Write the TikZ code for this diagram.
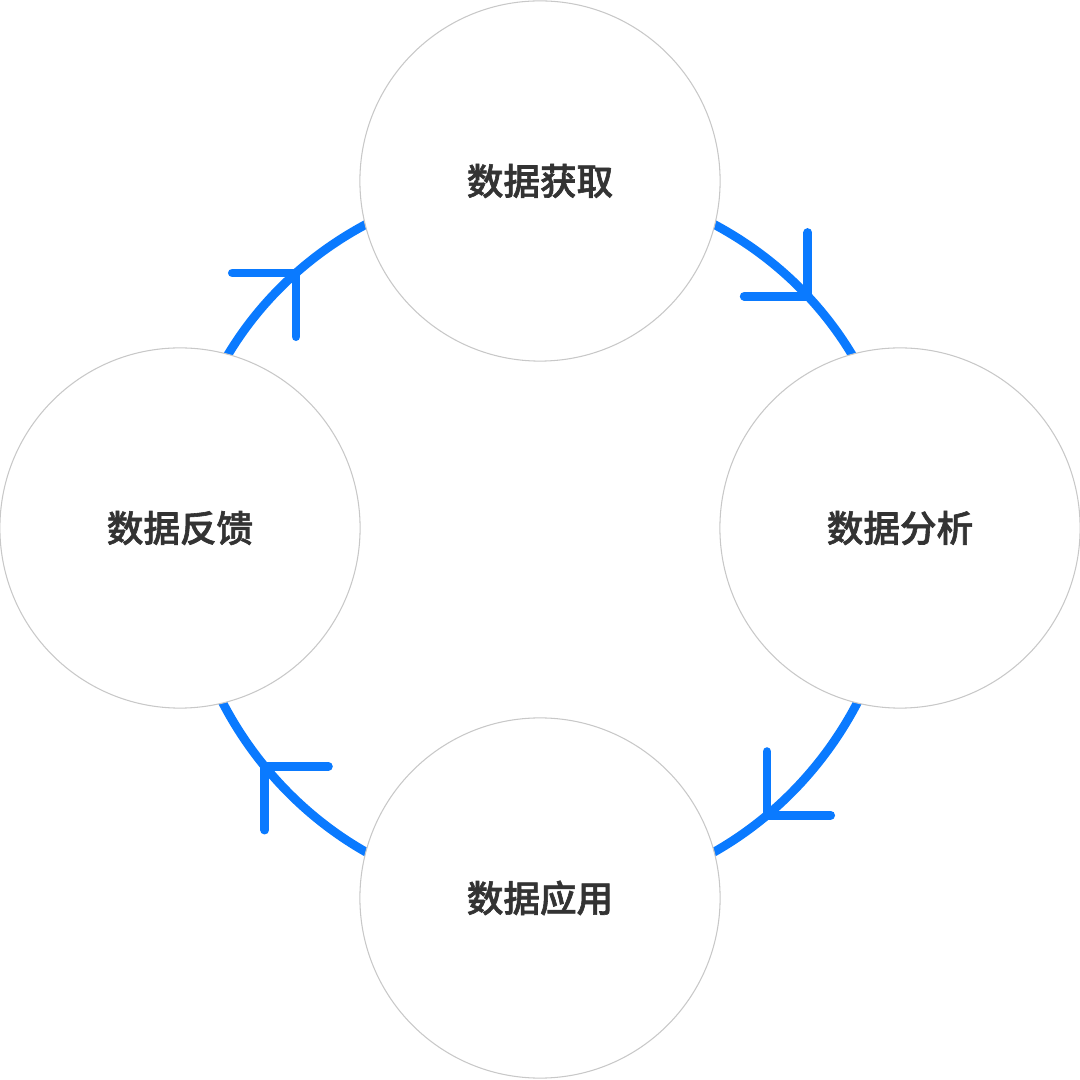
\documentclass[tikz,border=0pt]{standalone}
\usepackage{fontspec}
\newfontfamily\cjk[FakeBold=1.6]{Noto Sans CJK SC Medium}
\usetikzlibrary{backgrounds,decorations.markings}
\definecolor{flowblue}{RGB}{10,122,255}
\definecolor{ringgray}{RGB}{200,200,200}
\definecolor{labelgray}{RGB}{51,51,51}
\begin{document}
\begin{tikzpicture}[x=0.01cm,y=0.01cm,
        stage/.style={draw=ringgray,line width=0.3pt,circle,fill=white,
            minimum size=3.6cm,inner sep=0,text=labelgray,
            font=\cjk\fontsize{10.4pt}{12pt}\selectfont},
        flow/.style 2 args={draw=flowblue,line width=2.5pt,line cap=round,
            postaction={decorate,decoration={markings,mark=at position #1 with
                {\pgftransformresetnontranslations
                 \draw[flowblue,line width=2.5pt,line cap=round,line join=round,rotate=#2]
                    (-4.5mm,4.5mm) -- (0,0) -- (-4.5mm,-4.5mm);}}}},
        ]
        \useasboundingbox (-540,-540) rectangle (540,540);

        \node[stage] (get) at (0,359) {数据获取};
        \node[stage] (ana) at (360,12) {数据分析};
        \node[stage] (app) at (0,-358) {数据应用};
        \node[stage] (fb) at (-360,12) {数据反馈};

        \begin{scope}[on background layer]
        \path (get.center) edge[flow={0.54}{-45},out=0,in=90] (ana.center);
        \path (ana.center) edge[flow={0.57}{-135},out=-90,in=0] (app.center);
        \path (app.center) edge[flow={0.55}{135},out=180,in=-90] (fb.center);
        \path (fb.center) edge[flow={0.52}{45},out=90,in=180] (get.center);
        \end{scope}
\end{tikzpicture}
\end{document}
